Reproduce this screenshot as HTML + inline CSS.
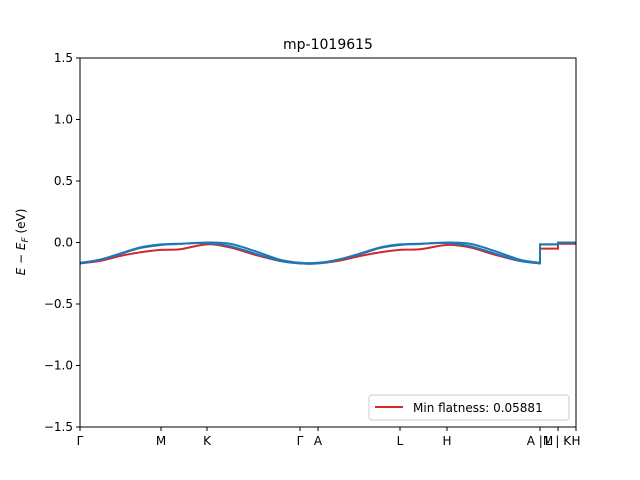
<!DOCTYPE html>
<html><head><meta charset="utf-8"><style>body{margin:0;background:#fff}svg{display:block;font-family:"DejaVu Sans","Liberation Sans",sans-serif}</style></head>
<body>
<svg id="c" width="640" height="480"></svg>
<script>
const kLabels=["Γ","M","K","Γ","A","L","H","A |M","L | K","H"];
const kTicks=[0,81,127,220,238,320,367,460,478,496];
const kx=[0,20,40,60,81,100,127,150,175,200,220,238,258,280,300,320,340,367,390,415,440,460,460,478,478,496];
const redBand=[-0.17,-0.15,-0.11,-0.08,-0.06,-0.055,-0.015,-0.04,-0.1,-0.15,-0.17,-0.17,-0.15,-0.11,-0.08,-0.06,-0.055,-0.02,-0.04,-0.1,-0.15,-0.17,-0.05,-0.05,-0.01,-0.01];
const blueBand1=[-0.17,-0.14,-0.09,-0.04,-0.015,-0.01,-0.005,-0.03,-0.09,-0.15,-0.17,-0.17,-0.14,-0.09,-0.04,-0.015,-0.01,-0.005,-0.03,-0.09,-0.15,-0.17,-0.015,-0.015,0,0];
const blueBand2=[-0.165,-0.14,-0.095,-0.045,-0.02,-0.012,0,-0.01,-0.07,-0.14,-0.165,-0.165,-0.14,-0.095,-0.045,-0.02,-0.012,0,-0.01,-0.07,-0.14,-0.165,-0.015,-0.015,0,0];
const yTicks=[-1.5,-1.0,-0.5,0.0,0.5,1.0,1.5];
const L=80,R=576,T=58,B=427;
const X=v=>L+(v-0)/(496)*(R-L);
const Y=v=>T+(1.5-v)/3*(B-T);
const svg=document.getElementById('c');const NS="http://www.w3.org/2000/svg";
function el(t,a,p){const e=document.createElementNS(NS,t);for(const k in a)e.setAttribute(k,a[k]);(p||svg).appendChild(e);return e;}
function smoothPath(d){
  const P=kx.map((k,i)=>[X(k),Y(d[i])]);
  // split into segments at duplicate x
  const segs=[];let cur=[P[0]];
  for(let i=1;i<P.length;i++){if(kx[i]===kx[i-1]){segs.push(cur);cur=[P[i]];}else cur.push(P[i]);}
  segs.push(cur);
  let s='';
  segs.forEach((g,si)=>{
    s+=(si===0?'M':'L')+g[0][0]+','+g[0][1];
    for(let i=0;i<g.length-1;i++){
      const p0=g[i-1]||g[i],p1=g[i],p2=g[i+1],p3=g[i+2]||g[i+1];
      const c1=[p1[0]+(p2[0]-p0[0])/6,p1[1]+(p2[1]-p0[1])/6];
      const c2=[p2[0]-(p3[0]-p1[0])/6,p2[1]-(p3[1]-p1[1])/6];
      s+='C'+c1+' '+c2+' '+p2;
    }
  });
  return s;
}
let t=el('text',{x:328,y:49,'text-anchor':'middle','font-size':14});t.textContent="mp-1019615";


const series=[[redBand,'#d62728','red-band'],[blueBand1,'#1f77b4','blue-band-1'],[blueBand2,'#1f77b4','blue-band-2']];
series.forEach(([d,c,n])=>{const p=el('path',{d:smoothPath(d),fill:'none',stroke:c,'stroke-width':2});

});
const f=el('rect',{x:L,y:T,width:R-L,height:B-T,fill:'none',stroke:'#000','stroke-width':1});


yTicks.forEach(v=>{el('line',{x1:L-4,x2:L,y1:Y(v),y2:Y(v),stroke:'#000'});const s=el('text',{x:L-7,y:Y(v)+4,'text-anchor':'end','font-size':12});s.textContent=(v<0?'−':'')+Math.abs(v).toFixed(1);

});
kTicks.forEach((k,i)=>{el('line',{x1:X(k),x2:X(k),y1:B,y2:B+4,stroke:'#000'});const s=el('text',{x:X(k),y:B+18,'text-anchor':'middle','font-size':12});s.textContent=kLabels[i];

});
const yl=el('text',{x:25,y:242,'text-anchor':'middle','font-size':12,transform:'rotate(-90 25 242)'});
yl.innerHTML='<tspan font-style="italic">E</tspan> − <tspan font-style="italic">E</tspan><tspan font-style="italic" font-size="9" dy="3">F</tspan><tspan dy="-3"> (eV)</tspan>';


const lg=el('g',{});


el('rect',{x:369,y:395,width:200,height:25,rx:3,fill:'#fff',stroke:'#ccc'},lg);
el('line',{x1:375,x2:403,y1:407,y2:407,stroke:'#d62728','stroke-width':2},lg);
const lt=el('text',{x:413,y:412,'font-size':12},lg);lt.textContent="Min flatness: 0.05881";
</script>
</body></html>
